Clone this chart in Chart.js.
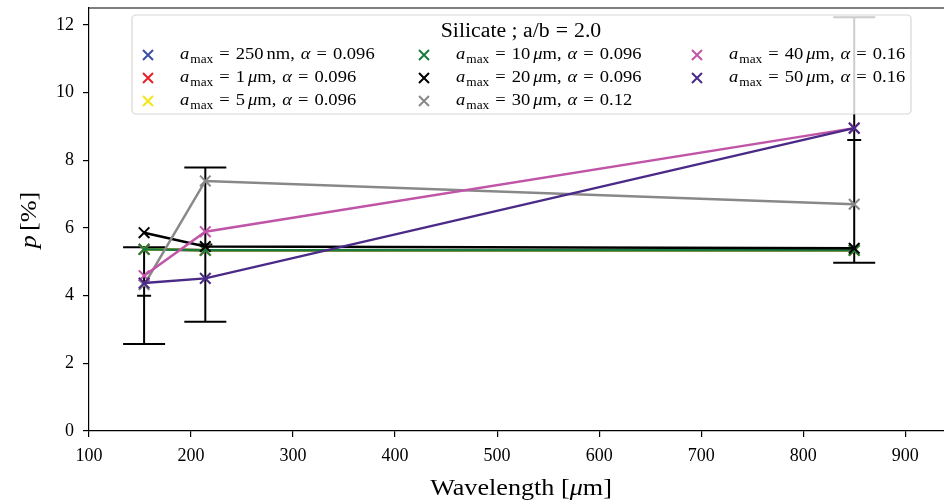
<!DOCTYPE html>
<html>
<head>
<meta charset="utf-8">
<script src="https://cdn.jsdelivr.net/npm/chart.js@4/dist/chart.umd.min.js"></script>
<style>
  html, body { margin: 0; padding: 0; background: #fff; }
  canvas { display: block; }
</style>
</head>
<body>
<canvas id="polChart" width="944" height="504"></canvas>
<script>
// wavelengths of the three bands (um)
const wavelengths = [154, 214, 850];

// model polarisation fractions p [%], one array per grain size
const p250nm = [5.37, 5.34, 5.34];
const p1um   = [5.37, 5.34, 5.34];
const p5um   = [5.37, 5.34, 5.34];
const p10um  = [5.37, 5.34, 5.34];
const p20um  = [5.86, 5.45, 5.40];
const p30um  = [4.32, 7.39, 6.70];
const p40um  = [4.59, 5.89, 8.95];
const p50um  = [4.37, 4.51, 8.95];

// observed values with their errors
const obsP   = [4.0, 5.51, 8.6];
const obsErr = [1.43, 2.28, 3.63];

const sizeLabels  = ['250', '1', '5', '10', '20', '30', '40', '50'];
const sizeUnits   = ['nm', 'um', 'um', 'um', 'um', 'um', 'um', 'um'];
const alphaLabels = ['0.096', '0.096', '0.096', '0.096', '0.096', '0.12', '0.16', '0.16'];
const colors = ['#3a4fa8', '#e8202a', '#f5e614', '#1a7a3e', '#000000', '#888888', '#c055a8', '#4a2a86'];
const seriesValues = [p250nm, p1um, p5um, p10um, p20um, p30um, p40um, p50um];

const FONT = '"Liberation Serif", "DejaVu Serif", serif';
const STRETCH = 1.09;

// later series are drawn on top of earlier ones
const datasets = seriesValues.map((vals, i) => ({
  label: sizeLabels[i] + ' ' + sizeUnits[i],
  data: wavelengths.map((w, j) => ({ x: w, y: vals[j] })),
  order: seriesValues.length - i,
  borderColor: colors[i],
  backgroundColor: colors[i],
  pointBorderColor: colors[i],
  borderWidth: 2.5,
  pointStyle: 'crossRot',
  pointRadius: 7.5,
  pointBorderWidth: 2,
  tension: 0,
  fill: false
}));

// text made of upright / italic / subscript pieces and fixed gaps
function partFont(p, size) {
  const fs = p.sub ? size * 0.72 : size;
  return (p.it ? 'italic ' : '') + fs + 'px ' + FONT;
}
function richWidth(ctx, parts, size) {
  let w = 0;
  for (const p of parts) {
    if (p.gap) { w += p.gap; continue; }
    ctx.font = partFont(p, size);
    w += ctx.measureText(p.t).width * STRETCH;
  }
  return w;
}
function drawRich(ctx, parts, x, y, size) {
  for (const p of parts) {
    if (p.gap) { x += p.gap; continue; }
    ctx.font = partFont(p, size);
    ctx.save();
    ctx.translate(x, y + (p.sub ? size * 0.28 : 0));
    ctx.scale(STRETCH, 1);
    ctx.fillText(p.t, 0, 0);
    ctx.restore();
    x += ctx.measureText(p.t).width * STRETCH;
  }
  return x;
}
const eq = (g) => [{ gap: g }, { t: '=' }, { gap: g }];
const unitParts = (u) => u === 'um' ? [{ t: '\u03bc', it: true }, { t: 'm' }] : [{ t: u }];

function drawCross(ctx, x, y, r, color) {
  ctx.save();
  ctx.strokeStyle = color;
  ctx.lineWidth = 2;
  ctx.beginPath();
  ctx.moveTo(x - r, y - r); ctx.lineTo(x + r, y + r);
  ctx.moveTo(x - r, y + r); ctx.lineTo(x + r, y - r);
  ctx.stroke();
  ctx.restore();
}

// observed error bars, drawn under the model lines
const errorBars = {
  id: 'errorBars',
  beforeDatasetsDraw(chart) {
    const { ctx, scales: { x, y } } = chart;
    ctx.save();
    ctx.strokeStyle = '#000';
    ctx.lineWidth = 2;
    wavelengths.forEach((w, i) => {
      const px = x.getPixelForValue(w);
      const lo = y.getPixelForValue(obsP[i] - obsErr[i]);
      const hi = y.getPixelForValue(obsP[i] + obsErr[i]);
      const mid = y.getPixelForValue(obsP[i]);
      ctx.beginPath();
      ctx.moveTo(px, lo); ctx.lineTo(px, hi);
      ctx.moveTo(px - 21, lo); ctx.lineTo(px + 21, lo);
      ctx.moveTo(px - 21, hi); ctx.lineTo(px + 21, hi);
      ctx.moveTo(px - 7, mid); ctx.lineTo(px + 7, mid);
      ctx.stroke();
    });
    ctx.restore();
  }
};

// top spine, axis titles and the three-column legend
const decorations = {
  id: 'decorations',
  afterDraw(chart) {
    const { ctx, chartArea } = chart;
    ctx.save();
    ctx.strokeStyle = '#000';
    ctx.lineWidth = 1.2;
    ctx.beginPath();
    ctx.moveTo(chartArea.left, chartArea.top);
    ctx.lineTo(chartArea.right, chartArea.top);
    ctx.stroke();

    ctx.fillStyle = '#000';
    ctx.textBaseline = 'middle';

    // x title
    const xt = [{ t: 'Wavelength [' }, { t: '\u03bc', it: true }, { t: 'm]' }];
    drawRich(ctx, xt, 521 - richWidth(ctx, xt, 24) / 2, 489, 24);

    // y title
    ctx.save();
    ctx.translate(30, 220);
    ctx.rotate(-Math.PI / 2);
    const yt = [{ t: 'p', it: true }, { gap: 4 }, { t: '[%]' }];
    drawRich(ctx, yt, -richWidth(ctx, yt, 24) / 2, 0, 24);
    ctx.restore();

    // legend frame
    const bx = 132, by = 15, bw = 779, bh = 99, rr = 4;
    ctx.beginPath();
    ctx.moveTo(bx + rr, by);
    ctx.arcTo(bx + bw, by, bx + bw, by + bh, rr);
    ctx.arcTo(bx + bw, by + bh, bx, by + bh, rr);
    ctx.arcTo(bx, by + bh, bx, by, rr);
    ctx.arcTo(bx, by, bx + bw, by, rr);
    ctx.closePath();
    ctx.fillStyle = 'rgba(255,255,255,0.8)';
    ctx.fill();
    ctx.strokeStyle = 'rgba(204,204,204,0.8)';
    ctx.lineWidth = 1.2;
    ctx.stroke();

    ctx.fillStyle = '#000';
    const title = [{ t: 'Silicate ; a/b' }, ...eq(6), { t: '2.0' }];
    drawRich(ctx, title, 521 - richWidth(ctx, title, 20) / 2, 32, 20);

    const colX = [148, 424, 697];
    const rowY = [55, 78, 101];
    sizeLabels.forEach((lab, i) => {
      const col = Math.floor(i / 3), row = i % 3;
      const mx = colX[col], my = rowY[row];
      drawCross(ctx, mx, my, 5, colors[i]);
      ctx.fillStyle = '#000';
      drawRich(ctx, [
        { t: 'a', it: true }, { gap: 1 }, { t: 'max', sub: true },
        ...eq(6), { t: lab }, { gap: 3 }, ...unitParts(sizeUnits[i]),
        { t: ',' }, { gap: 6 }, { t: '\u03b1', it: true },
        ...eq(6), { t: alphaLabels[i] }
      ], mx + 32, my, 17);
    });
    ctx.restore();
  }
};

new Chart(document.getElementById('polChart'), {
  type: 'line',
  data: { datasets: datasets },
  options: {
    responsive: false,
    animation: false,
    devicePixelRatio: 1,
    layout: { autoPadding: false, padding: { top: 8, right: 0, left: 0, bottom: 0 } },
    plugins: { legend: { display: false }, tooltip: { enabled: false } },
    scales: {
      x: {
        type: 'linear',
        min: 100,
        max: 938,
        afterFit(s) { s.height = 73; s.paddingLeft = 0; s.paddingRight = 0; },
        ticks: {
          stepSize: 100,
          includeBounds: false,
          color: '#000',
          font: { family: FONT, size: 18 },
          padding: 8,
          maxRotation: 0
        },
        grid: { drawOnChartArea: false, tickLength: 6, color: '#000', lineWidth: 1.2 },
        border: { color: '#000', width: 1.2 }
      },
      y: {
        min: 0,
        max: 12.5,
        afterFit(s) { s.width = 89; s.paddingTop = 0; s.paddingBottom = 0; },
        ticks: {
          stepSize: 2,
          includeBounds: false,
          color: '#000',
          font: { family: FONT, size: 18 },
          padding: 9
        },
        grid: { drawOnChartArea: false, tickLength: 6, color: '#000', lineWidth: 1.2 },
        border: { color: '#000', width: 1.2 }
      }
    }
  },
  plugins: [errorBars, decorations]
});
</script>
</body>
</html>
